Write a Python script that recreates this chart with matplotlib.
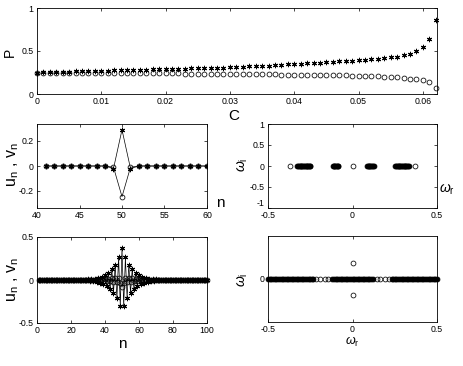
import numpy as np
import matplotlib
matplotlib.use('Agg')
import matplotlib.pyplot as plt

plt.rcParams['font.family'] = ['Liberation Sans', 'DejaVu Sans']
plt.rcParams['mathtext.fontset'] = 'custom'
plt.rcParams['mathtext.rm'] = 'Liberation Sans'
plt.rcParams['mathtext.it'] = 'Liberation Sans:italic'
plt.rcParams['axes.unicode_minus'] = False

# ---------------- data ----------------
C = np.arange(63) * 0.001
P_u = [0.250, 0.252, 0.254, 0.256, 0.258, 0.260, 0.262, 0.264, 0.266, 0.268, 0.270,
       0.272, 0.274, 0.276, 0.278, 0.280, 0.282, 0.284, 0.286, 0.288, 0.290,
       0.292, 0.294, 0.296, 0.298, 0.300, 0.302, 0.304, 0.306, 0.308, 0.311,
       0.314, 0.317, 0.320, 0.323, 0.327, 0.331, 0.335, 0.339, 0.344, 0.349,
       0.353, 0.357, 0.361, 0.365, 0.369, 0.373, 0.378, 0.383, 0.388, 0.393,
       0.399, 0.405, 0.411, 0.418, 0.426, 0.435, 0.450, 0.470, 0.500, 0.545, 0.640, 0.860]
P_v = [0.250, 0.249, 0.249, 0.248, 0.248, 0.247, 0.247, 0.246, 0.246, 0.245, 0.245,
       0.244, 0.244, 0.243, 0.243, 0.242, 0.242, 0.241, 0.241, 0.240, 0.240,
       0.239, 0.239, 0.238, 0.238, 0.237, 0.237, 0.236, 0.236, 0.235, 0.234,
       0.233, 0.232, 0.231, 0.230, 0.229, 0.228, 0.227, 0.226, 0.225, 0.224,
       0.223, 0.222, 0.221, 0.220, 0.219, 0.218, 0.217, 0.216, 0.214, 0.212,
       0.210, 0.208, 0.205, 0.202, 0.198, 0.193, 0.187, 0.180, 0.170, 0.157, 0.135, 0.075]

# middle-left: profile at small C, n = 41..60
n_a = np.arange(41, 61)
u_a = [0, 0, 0, 0, 0, 0, 0, 0, -0.02, 0.29, -0.02, 0, 0, 0, 0, 0, 0, 0, 0, 0]
v_a = [0, 0, 0, 0, 0, 0, 0, 0, -0.01, -0.245, -0.01, 0, 0, 0, 0, 0, 0, 0, 0, 0]

# middle-right: spectrum at small C
w_iso_a = [-0.368, 0.0, 0.372]
w_band_a = [-0.327, -0.322, -0.317, -0.312, -0.307, -0.302, -0.297, -0.292, -0.287,
            -0.282, -0.277, -0.272, -0.267, -0.262, -0.257, -0.252, -0.249,
            -0.117, -0.112, -0.107, -0.102, -0.097, -0.092, -0.088, -0.086,
            0.086, 0.090, 0.095, 0.100, 0.105, 0.110, 0.115, 0.120, 0.125,
            0.253, 0.258, 0.263, 0.268, 0.273, 0.278, 0.283, 0.288, 0.293,
            0.298, 0.303, 0.308, 0.313, 0.318, 0.323, 0.328, 0.332]

# bottom-left: profile at larger C, n = 1..100
n_b = np.arange(1, 101)
u_core = [0.008, -0.009, 0.010, -0.012, 0.015, -0.019, 0.024, -0.030, 0.037, -0.046,
          0.057, -0.070, 0.085, -0.100, 0.125, -0.150, 0.180, -0.215, 0.265, -0.305,
          0.370,
          -0.305, 0.265, -0.215, 0.180, -0.150, 0.125, -0.100, 0.085, -0.070, 0.057,
          -0.046, 0.037, -0.030, 0.024, -0.019, 0.015, -0.012, 0.010, -0.009, 0.008]
v_core = [0.002, -0.002, 0.003, -0.003, 0.004, -0.005, 0.006, -0.007, 0.009, -0.010,
          0.012, -0.013, 0.015, -0.016, 0.018, -0.019, 0.020, -0.022, 0.020, -0.030,
          -0.080,
          -0.030, 0.020, -0.022, 0.020, -0.019, 0.018, -0.016, 0.015, -0.013, 0.012,
          -0.010, 0.009, -0.007, 0.006, -0.005, 0.004, -0.003, 0.003, -0.002, 0.002]
u_b = np.concatenate([np.zeros(29), u_core, np.zeros(30)])
v_b = np.concatenate([np.zeros(29), v_core, np.zeros(30)])

# bottom-right: spectrum at larger C
w_band_b = [-0.50, -0.49, -0.48, -0.47, -0.46, -0.45, -0.44, -0.43, -0.42, -0.41, -0.40,
            -0.39, -0.38, -0.37, -0.36, -0.35, -0.34, -0.33, -0.32, -0.31, -0.30, -0.29,
            -0.28, -0.27, -0.26, -0.25, -0.24, -0.232,
            -0.122, -0.11, -0.10, -0.09, -0.08, -0.07, -0.06, -0.05, -0.04, -0.03, -0.02,
            -0.01, 0.0, 0.01, 0.02, 0.03, 0.04, 0.05, 0.06, 0.07, 0.08, 0.09, 0.10, 0.11, 0.122,
            0.232, 0.24, 0.25, 0.26, 0.27, 0.28, 0.29, 0.30, 0.31, 0.32, 0.33, 0.34, 0.35,
            0.36, 0.37, 0.38, 0.39, 0.40, 0.41, 0.42, 0.43, 0.44, 0.45, 0.46, 0.47, 0.48,
            0.49, 0.50]
w_gap_b = [-0.215, -0.19, -0.165, -0.145, 0.145, 0.165, 0.19, 0.215]
w_im_pair = [0.38, -0.38]

# ---------------- figure ----------------
fig = plt.figure(figsize=(4.63, 3.66), dpi=100)
W, H = 463.0, 366.0


def box(x0, y0, x1, y1):
    return [x0 / W, 1 - y1 / H, (x1 - x0) / W, (y1 - y0) / H]


def style(ax):
    ax.tick_params(direction='in', length=2.2, width=0.5, labelsize=6.3,
                   top=True, right=True, pad=2.5)
    for s in ax.spines.values():
        s.set_linewidth(0.6)


ms = 3.5
star = (6, 2, 0)
lfs = 10

# top panel
ax0 = fig.add_axes(box(37, 8, 437, 94))
ax0.plot(C, P_u, linestyle='none', marker=star, ms=ms + 0.3, mec='k', mew=0.75, clip_on=False)
ax0.plot(C, P_v, linestyle='none', marker='o', ms=ms, mfc='none', mec='k', mew=0.55,
         clip_on=False)
ax0.set_xlim(0, 0.0622)
ax0.set_ylim(0, 1)
ax0.set_xticks([0, 0.01, 0.02, 0.03, 0.04, 0.05, 0.06])
ax0.set_xticklabels(['0', '0.01', '0.02', '0.03', '0.04', '0.05', '0.06'])
ax0.set_yticks([0, 0.5, 1])
ax0.set_yticklabels(['0', '0.5', '1'])
style(ax0)
fig.text(10 / W, 1 - 52 / H, 'P', rotation=90, fontsize=lfs, ha='center', va='center')
fig.text(234 / W, 1 - 116 / H, 'C', fontsize=lfs + 1, ha='center', va='center')

# middle-left
ax1 = fig.add_axes(box(37, 124, 207, 208))
ax1.plot(n_a, u_a, '-', color='k', lw=0.5, marker=star, ms=ms + 0.3, mec='k', mew=0.75)
ax1.plot(n_a, v_a, '-', color='k', lw=0.5, marker='o', ms=ms, mfc='none', mec='k', mew=0.55)
ax1.set_xlim(40, 60)
ax1.set_ylim(-0.336, 0.336)
ax1.set_xticks([40, 45, 50, 55, 60])
ax1.set_yticks([-0.2, 0, 0.2])
ax1.set_yticklabels(['-0.2', '0', '0.2'])
style(ax1)
ylab = r'$\mathrm{u_n}$ , $\mathrm{v_n}$'
fig.text(13 / W, 1 - 165 / H, ylab, rotation=90, fontsize=11.5, ha='center', va='center')
fig.text(220 / W, 1 - 203 / H, 'n', fontsize=lfs + 1, ha='center', va='center')

# middle-right
ax2 = fig.add_axes(box(268, 124, 437, 208))
ax2.plot(w_band_a, np.zeros(len(w_band_a)), linestyle='none', marker='o', ms=ms,
         mfc='k', mec='k', mew=0.6)
ax2.plot(w_iso_a, np.zeros(len(w_iso_a)), linestyle='none', marker='o', ms=ms,
         mfc='none', mec='k', mew=0.55)
ax2.set_xlim(-0.5, 0.5)
ax2.set_ylim(-1, 1)
ax2.set_xticks([-0.5, 0, 0.5])
ax2.set_xticklabels(['-0.5', '0', '0.5'])
ax2.set_yticks([-1, -0.5, 0, 0.5, 1])
ax2.set_yticklabels(['-1', '-0.5', '0', '0.5', '1'])
style(ax2)
ax2.get_yticklabels()[0].set_va('bottom')
fig.text(243 / W, 1 - 165 / H, r'$\omega_\mathrm{i}$', rotation=90, fontsize=lfs,
         ha='center', va='center')
fig.text(447 / W, 1 - 190 / H, r'$\omega_\mathrm{r}$', fontsize=lfs, ha='center', va='center')

# bottom-left
ax3 = fig.add_axes(box(37, 237, 207, 323))
ax3.plot(n_b, u_b, '-', color='k', lw=0.5, marker=star, ms=ms + 0.3, mec='k', mew=0.75,
         clip_on=False)
ax3.plot(n_b, v_b, '-', color='k', lw=0.5, marker='o', ms=ms, mfc='none', mec='k',
         mew=0.55, clip_on=False)
ax3.set_xlim(0, 100)
ax3.set_ylim(-0.5, 0.5)
ax3.set_xticks([0, 20, 40, 60, 80, 100])
ax3.set_yticks([-0.5, 0, 0.5])
ax3.set_yticklabels(['-0.5', '0', '0.5'])
style(ax3)
fig.text(13 / W, 1 - 280 / H, ylab, rotation=90, fontsize=11.5, ha='center', va='center')
fig.text(122 / W, 1 - 344 / H, 'n', fontsize=lfs + 1, ha='center', va='center')

# bottom-right
ax4 = fig.add_axes(box(268, 236, 437, 322))
ax4.plot(w_band_b, np.zeros(len(w_band_b)), linestyle='none', marker='o', ms=ms,
         mfc='k', mec='k', mew=0.6, clip_on=False)
ax4.plot(w_gap_b, np.zeros(len(w_gap_b)), linestyle='none', marker='o', ms=ms,
         mfc='none', mec='k', mew=0.55)
ax4.plot([0, 0], w_im_pair, linestyle='none', marker='o', ms=ms, mfc='none', mec='k',
         mew=0.55)
ax4.set_xlim(-0.5, 0.5)
ax4.set_ylim(-1, 1)
ax4.set_xticks([-0.5, 0, 0.5])
ax4.set_xticklabels(['-0.5', '0', '0.5'])
ax4.set_yticks([0])
ax4.set_yticklabels(['0'])
style(ax4)
fig.text(243 / W, 1 - 280 / H, r'$\omega_\mathrm{i}$', rotation=90, fontsize=lfs,
         ha='center', va='center')
fig.text(352 / W, 1 - 342 / H, r'$\omega_\mathrm{r}$', fontsize=9, ha='center', va='center')

fig.savefig('out.png', dpi=100)
